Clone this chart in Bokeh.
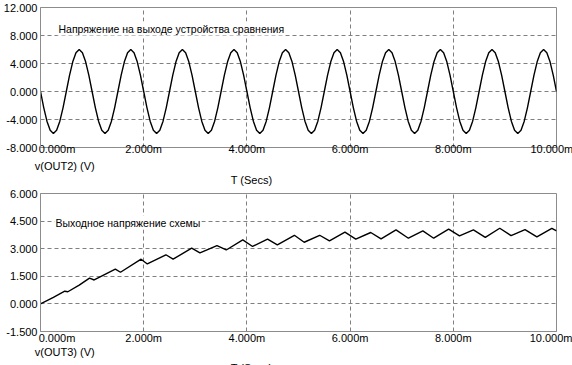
from bokeh.plotting import figure
from bokeh.models import FixedTicker, Label, Range1d, LinearAxis
from bokeh.layouts import column
from bokeh.embed import file_html
from bokeh.resources import INLINE

# ---------------- data ----------------
x_ticks = [0, 2, 4, 6, 8, 10]
x_tick_labels = ["0.000m", "2.000m", "4.000m", "6.000m", "8.000m", "10.000m"]
x_grid = [2, 4, 6, 8]

top_y_ticks = [-8, -4, 0, 4, 8, 12]
top_y_labels = ["-8.000", "-4.000", "0.000", "4.000", "8.000", "12.000"]
bot_y_ticks = [-1.5, 0, 1.5, 3, 4.5, 6]
bot_y_labels = ["-1.500", "0.000", "1.500", "3.000", "4.500", "6.000"]

top_title = "Напряжение на выходе устройства сравнения"
bot_title = "Выходное напряжение схемы"
top_ylabel = "v(OUT2) (V)"
bot_ylabel = "v(OUT3) (V)"
x_label = "T (Secs)"

# v(OUT2): samples every 0.0625 ms
out2_dt_ms = 0.0625
out2_v = [
    0.00, -2.30, -4.24, -5.54, -6.00, -5.54, -4.24, -2.30, 0.00, 2.30, 4.24, 5.54, 6.00, 5.54, 4.24, 2.30,
    0.00, -2.30, -4.24, -5.54, -6.00, -5.54, -4.24, -2.30, 0.00, 2.30, 4.24, 5.54, 6.00, 5.54, 4.24, 2.30,
    0.00, -2.30, -4.24, -5.54, -6.00, -5.54, -4.24, -2.30, 0.00, 2.30, 4.24, 5.54, 6.00, 5.54, 4.24, 2.30,
    0.00, -2.30, -4.24, -5.54, -6.00, -5.54, -4.24, -2.30, 0.00, 2.30, 4.24, 5.54, 6.00, 5.54, 4.24, 2.30,
    0.00, -2.30, -4.24, -5.54, -6.00, -5.54, -4.24, -2.30, 0.00, 2.30, 4.24, 5.54, 6.00, 5.54, 4.24, 2.30,
    0.00, -2.30, -4.24, -5.54, -6.00, -5.54, -4.24, -2.30, 0.00, 2.30, 4.24, 5.54, 6.00, 5.54, 4.24, 2.30,
    0.00, -2.30, -4.24, -5.54, -6.00, -5.54, -4.24, -2.30, 0.00, 2.30, 4.24, 5.54, 6.00, 5.54, 4.24, 2.30,
    0.00, -2.30, -4.24, -5.54, -6.00, -5.54, -4.24, -2.30, 0.00, 2.30, 4.24, 5.54, 6.00, 5.54, 4.24, 2.30,
    0.00, -2.30, -4.24, -5.54, -6.00, -5.54, -4.24, -2.30, 0.00, 2.30, 4.24, 5.54, 6.00, 5.54, 4.24, 2.30,
    0.00, -2.30, -4.24, -5.54, -6.00, -5.54, -4.24, -2.30, 0.00, 2.30, 4.24, 5.54, 6.00, 5.54, 4.24, 2.30,
    0.00,
]
out2_t_ms = [i * out2_dt_ms for i in range(len(out2_v))]

# v(OUT3): breakpoints
out3_t_ms = [0.00, 0.25, 0.47, 0.53, 0.75, 0.95, 1.04, 1.45, 1.55, 1.95, 2.07, 2.43, 2.57, 2.93,
             3.09, 3.42, 3.60, 3.92, 4.11, 4.40, 4.59, 4.92, 5.11, 5.41, 5.60, 5.90, 6.11, 6.40,
             6.60, 6.89, 7.13, 7.41, 7.62, 7.91, 8.12, 8.39, 8.62, 8.90, 9.12, 9.39, 9.62, 9.91, 10.00]
out3_v = [0.00, 0.36, 0.69, 0.66, 1.02, 1.40, 1.30, 1.89, 1.72, 2.43, 2.17, 2.67, 2.43, 3.03,
          2.77, 3.17, 2.93, 3.48, 3.12, 3.52, 3.21, 3.73, 3.35, 3.73, 3.42, 3.90, 3.52, 3.88,
          3.53, 4.02, 3.57, 3.97, 3.57, 4.06, 3.70, 4.02, 3.62, 4.11, 3.71, 4.04, 3.64, 4.11, 3.97]

# ---------------- style ----------------
FONT = "Liberation Sans"
FS = "11px"
TITLE_FS = "10.5px"
FRAME = "#8c8c8c"
GRID = "#808080"
LEFT, RIGHT = 37, 19
FRAME_W = 516
# horizontal placement (in data units) of texts under the x axis
FIRST_LABEL_SHIFT = 0.32
LAST_LABEL_SHIFT = -0.09
YLABEL_POS = 0.47
XLABEL_POS = 4.09


def text_axis(p, pos, text, standoff):
    ax = LinearAxis(ticker=FixedTicker(ticks=[pos]), major_label_overrides={pos: text})
    ax.axis_line_color = None
    ax.major_tick_in = 0
    ax.major_tick_out = 0
    ax.minor_tick_line_color = None
    ax.major_label_standoff = standoff
    ax.major_label_text_font = FONT
    ax.major_label_text_font_size = FS
    ax.major_label_text_color = "black"
    p.add_layout(ax, "below")


def make_fig(frame_h, border_top, y_lo, y_hi, yticks, ylabels, standoffs, ylabel_text):
    p = figure(frame_width=FRAME_W, frame_height=frame_h,
               x_range=Range1d(0, 10), y_range=Range1d(y_lo, y_hi),
               output_backend="svg", toolbar_location=None,
               min_border_left=LEFT, min_border_right=RIGHT, min_border_top=border_top,
               min_border_bottom=0)
    p.background_fill_color = "white"
    p.border_fill_color = "white"
    p.outline_line_color = FRAME
    p.outline_line_width = 1

    label_ticks = ([x_ticks[0] + FIRST_LABEL_SHIFT] + x_ticks[1:-1]
                   + [x_ticks[-1] + LAST_LABEL_SHIFT])
    xa = p.xaxis[0]
    xa.ticker = FixedTicker(ticks=label_ticks)
    xa.major_label_overrides = {t: l for t, l in zip(label_ticks, x_tick_labels)}
    ya = p.yaxis[0]
    ya.ticker = FixedTicker(ticks=yticks)
    ya.major_label_overrides = {t: l for t, l in zip(yticks, ylabels)}
    for ax in (xa, ya):
        ax.major_tick_in = 0
        ax.major_tick_out = 0
        ax.minor_tick_line_color = None
        ax.axis_line_color = FRAME
        ax.major_label_text_font = FONT
        ax.major_label_text_font_size = FS
        ax.major_label_text_color = "black"
    xa.major_label_standoff = standoffs[0]
    ya.major_label_standoff = 3

    p.xgrid.ticker = FixedTicker(ticks=x_grid)
    p.ygrid.ticker = FixedTicker(ticks=yticks[1:-1])
    for g in (p.xgrid, p.ygrid):
        g.grid_line_color = GRID
        g.grid_line_dash = "4 3"
        g.grid_line_width = 1

    text_axis(p, YLABEL_POS, ylabel_text, standoffs[1])
    text_axis(p, XLABEL_POS, x_label, standoffs[2])
    return p


def add_title(p, text, x, y):
    p.add_layout(Label(x=x, y=y, x_units="screen", y_units="screen", text=text,
                       text_align="left", text_baseline="middle", text_font=FONT,
                       text_font_size=TITLE_FS, text_color="black",
                       background_fill_color="white", padding=1))


# top plot: frame 7..147
p1 = make_fig(140, 7, top_y_ticks[0], top_y_ticks[-1], top_y_ticks, top_y_labels, (-5, 2, -1), top_ylabel)
p1.line(out2_t_ms, out2_v, line_color="black", line_width=1.4)
add_title(p1, top_title, 17, 119)

# bottom plot: frame 194..332
p2 = make_fig(138, 5, bot_y_ticks[0], bot_y_ticks[-1], bot_y_ticks, bot_y_labels, (0, -1, 1), bot_ylabel)
p2.line(out3_t_ms, out3_v, line_color="black", line_width=1.4)
add_title(p2, bot_title, 14, 109)

layout = column(p1, p2, spacing=0)

open("out.html", "w").write(file_html(layout, INLINE))
